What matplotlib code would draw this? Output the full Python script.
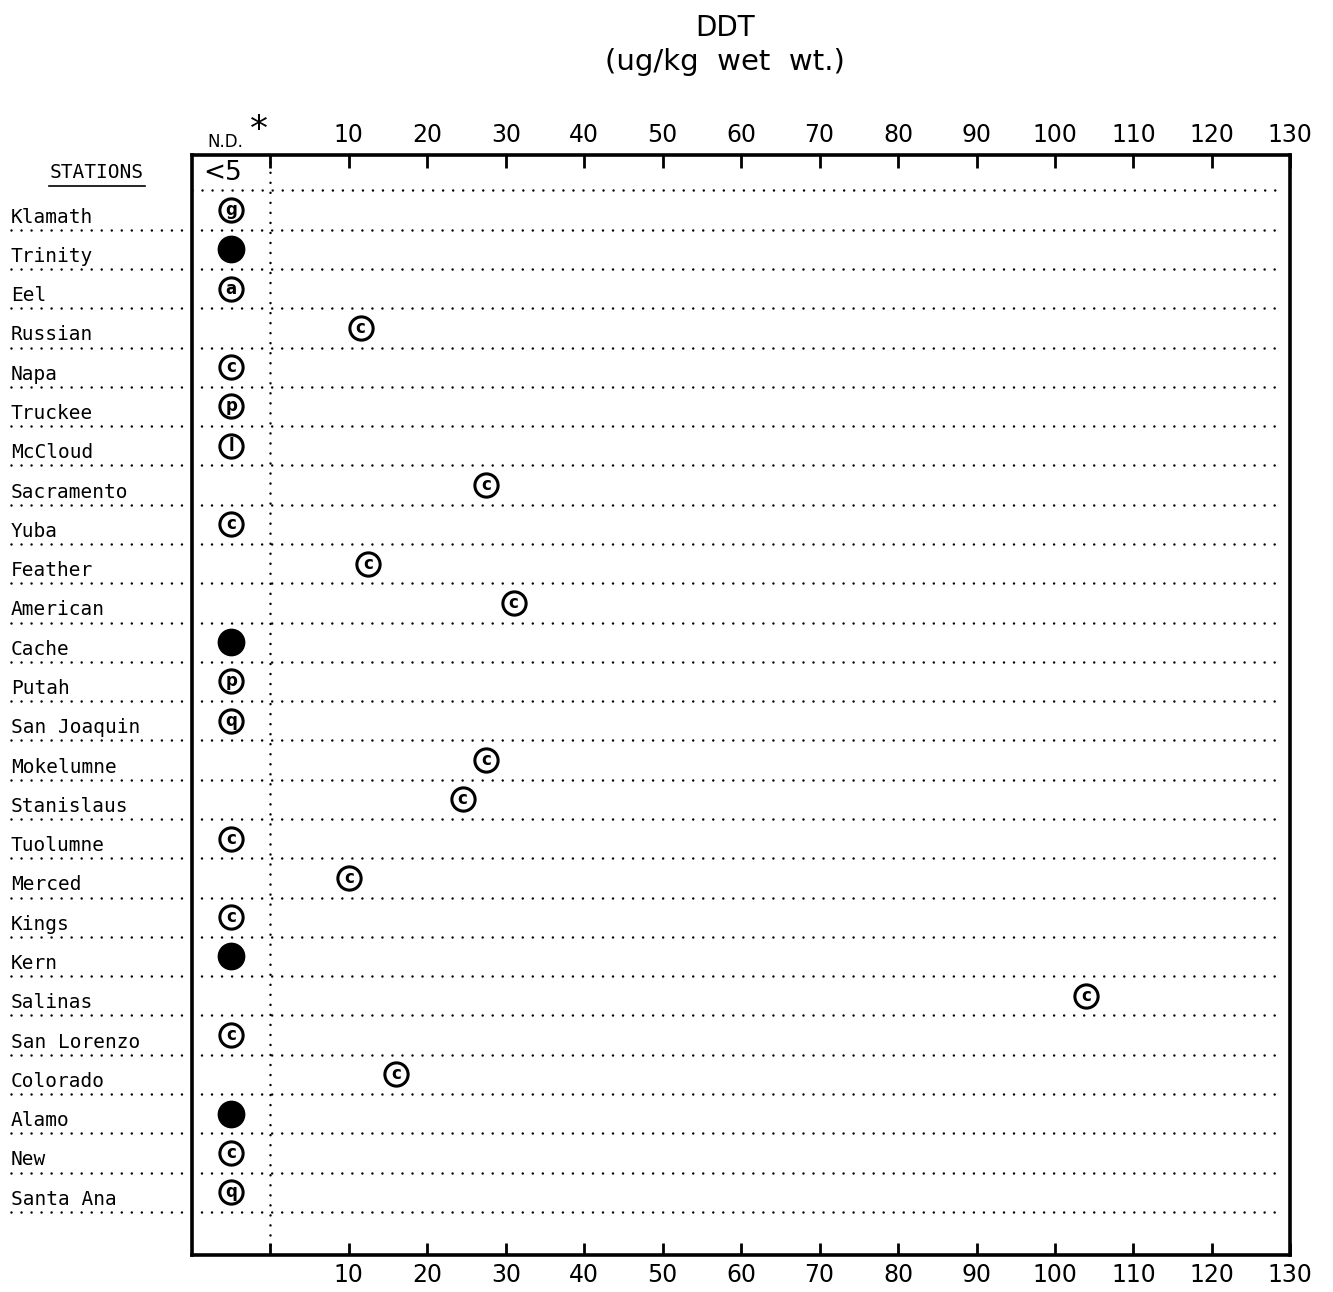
import numpy as np
import matplotlib
matplotlib.use("Agg")
import matplotlib.pyplot as plt
from matplotlib.transforms import blended_transform_factory

# stations from north to south
stations = ["Klamath", "Trinity", "Eel", "Russian", "Napa", "Truckee", "McCloud",
            "Sacramento", "Yuba", "Feather", "American", "Cache", "Putah",
            "San Joaquin", "Mokelumne", "Stanislaus", "Tuolumne", "Merced",
            "Kings", "Kern", "Salinas", "San Lorenzo", "Colorado", "Alamo",
            "New", "Santa Ana"]

# DDT ug/kg wet wt. (None = not detected, <5)
ddt = [None, None, None, 11.5, None, None, None, 27.5, None, 12.5, 31, None, None,
       None, 27.5, 24.5, None, 10, None, None, 104, None, 16, None, None, None]

# letter code inside the circle ("" = solid circle)
codes = ["g", "", "a", "c", "c", "p", "l", "c", "c", "c", "c", "", "p",
         "q", "c", "c", "c", "c", "c", "", "c", "c", "c", "", "c", "q"]

ticks = [0, 10, 20, 30, 40, 50, 60, 70, 80, 90, 100, 110, 120, 130]
tick_labels = [""] + [str(t) for t in ticks[1:]]

fig = plt.figure(figsize=(13.33, 12.92), dpi=100)
ax = fig.add_axes([0.144, 0.0286, 0.824, 0.8514])

nd_x = -5  # middle of the N.D. column
ax.set_xlim(-10, 130)
ax.set_ylim(26.6, -1.4)

# dotted row lines, running out under the station names
trans = blended_transform_factory(ax.transAxes, ax.transData)
for i in range(-1, len(stations)):
    x0 = -0.165 if i >= 0 else 0.0
    ax.plot([x0, 0.99], [i + 0.5, i + 0.5], transform=trans, color="black",
            lw=1.8, linestyle=(0, (0.01, 4)), dash_capstyle="round", clip_on=False)

# N.D. divider
ax.axvline(0, color="black", lw=1.8, linestyle=(0, (0.01, 4)), dash_capstyle="round")

# markers
for i, (v, c) in enumerate(zip(ddt, codes)):
    x = nd_x if v is None else v
    if c == "":
        ax.scatter([x], [i], s=360, color="black", zorder=3)
    else:
        ax.scatter([x], [i], s=280, facecolor="white", edgecolor="black",
                   linewidth=2.2, zorder=3)
        ax.text(x, i, c, ha="center", va="center", fontsize=12, fontweight="bold",
                zorder=4)

# station names
for i, name in enumerate(stations):
    ax.text(-0.165, i + 0.42, name, transform=trans, ha="left", va="bottom",
            fontsize=14, family="DejaVu Sans Mono")

ax.text(-0.13, -0.95, "STATIONS", transform=trans, ha="left", va="center",
        fontsize=14, family="DejaVu Sans Mono")
ax.plot([-0.13, -0.043], [-0.6, -0.6], transform=trans, color="black", lw=1.2,
        clip_on=False)

ax.text(-8.5, -0.95, "<5", ha="left", va="center", fontsize=19)
ax.text(-5.8, -1.5, "N.D.", ha="center", va="bottom", fontsize=12)
ax.text(-1.4, -1.6, "*", ha="center", va="bottom", fontsize=26)

# axes styling
ax.set_xticks(ticks)
ax.set_xticklabels(tick_labels, fontsize=17)
ax.set_yticks([])
ax.tick_params(axis="x", direction="in", length=9, width=2, top=True,
               labeltop=True, pad=6)
for s in ax.spines.values():
    s.set_linewidth(2.6)

fig.text(0.544, 0.978, "DDT", ha="center", va="center", fontsize=20)
fig.text(0.544, 0.952, "(ug/kg  wet  wt.)", ha="center", va="center", fontsize=21)

fig.savefig("out.png", dpi=100)
